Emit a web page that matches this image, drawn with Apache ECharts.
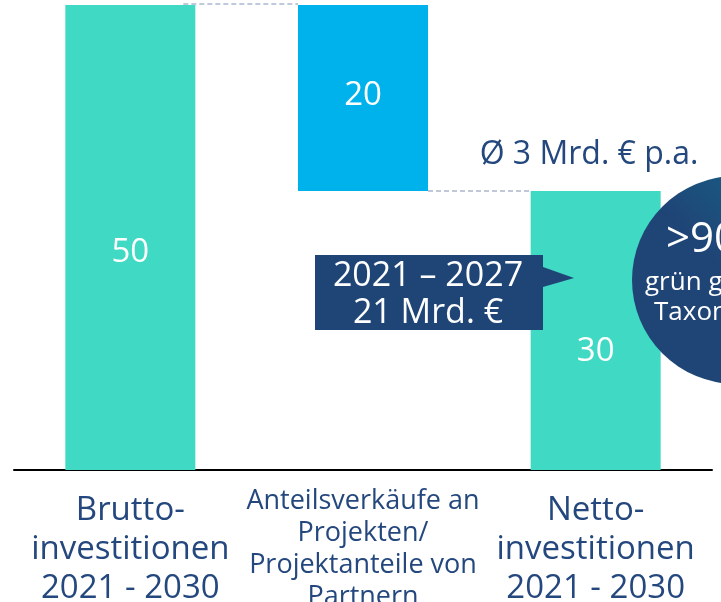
<!DOCTYPE html>
<html>
<head>
<meta charset="utf-8">
<script src="https://cdn.jsdelivr.net/npm/echarts@6/dist/echarts.min.js"></script>
<style>
  html, body { margin: 0; padding: 0; background: #fff; }
  #chart { width: 721px; height: 602px; }
</style>
</head>
<body>
<div id="chart"></div>
<script>
var categories = ['Brutto-\ninvestitionen\n2021 - 2030', 'Anteilsverkäufe an\nProjekten/\nProjektanteile von\nPartnern', 'Netto-\ninvestitionen\n2021 - 2030'];
var baseValues = [0, 30, 0];
var barValues = [50, 20, 30];
var barColors = ['#40d9c3', '#00b2eb', '#40d9c3'];
var labelOffsets = [[0, 15], [0, -2], [0, 21]];

var font = '"Open Sans", "Liberation Sans", sans-serif';
var navy = '#24487e';

var chart = echarts.init(document.getElementById('chart'));

var option = {
    animation: false,
    grid: { left: 14, right: 9, top: 5, bottom: 132, containLabel: false, outerBoundsMode: 'none' },
    xAxis: {
        type: 'category',
        data: categories.map(function (c, i) {
            if (i == 1) {
                return { value: c, textStyle: { fontSize: 27, lineHeight: 32 } };
            }
            return { value: c, textStyle: { fontSize: 33, lineHeight: 39, padding: [6, 0, 0, 0] } };
        }),
        axisLine: { lineStyle: { color: '#000', width: 2 } },
        axisTick: { show: false },
        axisLabel: {
            interval: 0,
            margin: 15,
            color: navy,
            fontFamily: font,
            hideOverlap: false
        }
    },
    yAxis: {
        type: 'value',
        min: 0,
        max: 50,
        show: false
    },
    series: [
        {
            name: 'base',
            type: 'bar',
            stack: 'w',
            barWidth: 130,
            itemStyle: { color: 'transparent' },
            data: baseValues
        },
        {
            name: 'value',
            type: 'bar',
            stack: 'w',
            barWidth: 130,
            data: barValues.map(function (v, i) {
                return {
                    value: v,
                    itemStyle: { color: barColors[i] },
                    label: { offset: labelOffsets[i] }
                };
            }),
            label: {
                show: true,
                position: 'inside',
                color: '#fff',
                fontSize: 33,
                fontFamily: font
            }
        }
    ]
};
chart.setOption(option);

// connectors between the bars, from the axis scale
var half = 65;
var p0 = chart.convertToPixel({ seriesIndex: 1 }, [0, 50]);
var p1 = chart.convertToPixel({ seriesIndex: 1 }, [1, 50]);
var p1b = chart.convertToPixel({ seriesIndex: 1 }, [1, 30]);
var p2 = chart.convertToPixel({ seriesIndex: 1 }, [2, 30]);
var dash = { stroke: '#a9b6cb', lineWidth: 1.5, lineDash: [5, 3] };

chart.setOption({
    graphic: [
        { type: 'line', shape: { x1: p0[0] + half - 12, y1: p0[1] - 1, x2: p1[0] - half, y2: p1[1] - 1 }, style: dash, z: 10 },
        { type: 'line', shape: { x1: p1b[0] + half, y1: p1b[1], x2: p2[0] - half, y2: p2[1] }, style: dash, z: 10 },
        {
            type: 'text', x: 589, y: 155, z: 10,
            style: { text: 'Ø 3 Mrd. € p.a.', fill: navy, font: '32px ' + font, align: 'center', verticalAlign: 'middle' }
        },
        {
            type: 'polygon', z: 10,
            shape: { points: [[315, 255], [543, 255], [543, 267], [574, 278], [543, 287], [543, 330], [315, 330]] },
            style: { fill: '#1f4577' }
        },
        {
            type: 'text', x: 428, y: 276, z: 11,
            style: { text: '2021 – 2027', fill: '#fff', font: '34px ' + font, align: 'center', verticalAlign: 'middle' }
        },
        {
            type: 'text', x: 428, y: 313, z: 11,
            style: { text: '21 Mrd. €', fill: '#fff', font: '34px ' + font, align: 'center', verticalAlign: 'middle' }
        },
        {
            type: 'circle', z: 12,
            shape: { cx: 736, cy: 280, r: 104 },
            style: {
                fill: new echarts.graphic.LinearGradient(1, 0, 0, 1, [
                    { offset: 0, color: '#136e8c' },
                    { offset: 0.5, color: '#1f4577' },
                    { offset: 1, color: '#1f4577' }
                ])
            }
        },
        {
            type: 'text', x: 666, y: 240, z: 13,
            style: { text: '>90 %', fill: '#fff', font: '42px ' + font, verticalAlign: 'middle' }
        },
        {
            type: 'text', x: 645, y: 283, z: 13,
            style: { text: 'grün gemäß', fill: '#fff', font: '26px ' + font, verticalAlign: 'middle' }
        },
        {
            type: 'text', x: 654, y: 313, z: 13,
            style: { text: 'Taxonomie', fill: '#fff', font: '26px ' + font, verticalAlign: 'middle' }
        }
    ]
});
</script>
</body>
</html>
